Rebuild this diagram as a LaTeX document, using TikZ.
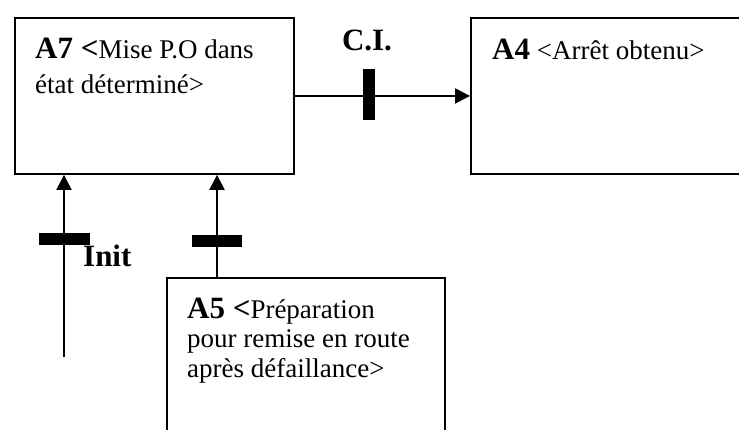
\documentclass[tikz,border=0pt]{standalone}
\usepackage{fontspec}
\setmainfont{Liberation Serif}
\usetikzlibrary{arrows.meta}
\newcommand{\bigbf}{\fontsize{31}{34}\selectfont\bfseries}
\begin{document}
\begin{tikzpicture}[x=1pt,y=-1pt,
  box/.style={draw, line width=1.9pt, anchor=north west, inner sep=0pt, minimum height=156pt},
  conn/.style={line width=2.3pt, -{Triangle[length=15pt,width=15pt]}},
  bar/.style={fill=black, draw=none, inner sep=0pt},
  lbl/.style={anchor=base west, inner sep=0pt, font=\fontsize{27}{30}\selectfont},
  bold/.style={inner sep=0pt, font=\bigbf}]
\useasboundingbox (0,0) rectangle (739,429);
\clip (0,0) rectangle (739,429);
% boxes
\node[box, minimum width=279pt] (A7) at (14,17) {};
\node[box, minimum width=300pt] (A4) at (470,17) {};
\node[box, minimum width=278pt, minimum height=220pt] (A5) at (166,277) {};
% texts
\node[lbl] (t7a) at (35,58) {{\bigbf A7 <}Mise P.O dans};
\node[lbl] (t7b) at (35,93) {état déterminé>};
\node[lbl] (t4) at (492,59) {{\bigbf A4} <Arrêt obtenu>};
\node[lbl] (t5a) at (187,318) {{\bigbf A5 <}Préparation};
\node[lbl] (t5b) at (187,347) {pour remise en route};
\node[lbl] (t5c) at (187,377) {après défaillance>};
\node[bold, anchor=base] (ci) at (367,50) {C.I.};
\node[bold, anchor=base west] (init) at (83,266) {Init};
% connectors
\draw[conn] (A7.east) -- (A4.west);
\coordinate (initend) at (64,357);
\draw[conn] (initend) -- (initend |- A7.south);
\coordinate (a5top) at ([xshift=51pt]A5.north west);
\draw[conn] (a5top) -- (a5top |- A7.south);
% bars
\node[bar, minimum width=12pt, minimum height=51pt] (b1) at (369,94.5) {};
\node[bar, minimum width=51pt, minimum height=12pt] (b2) at (64.5,239) {};
\node[bar, minimum width=50pt, minimum height=12pt] (b3) at (217,240.5) {};
\end{tikzpicture}
\end{document}
